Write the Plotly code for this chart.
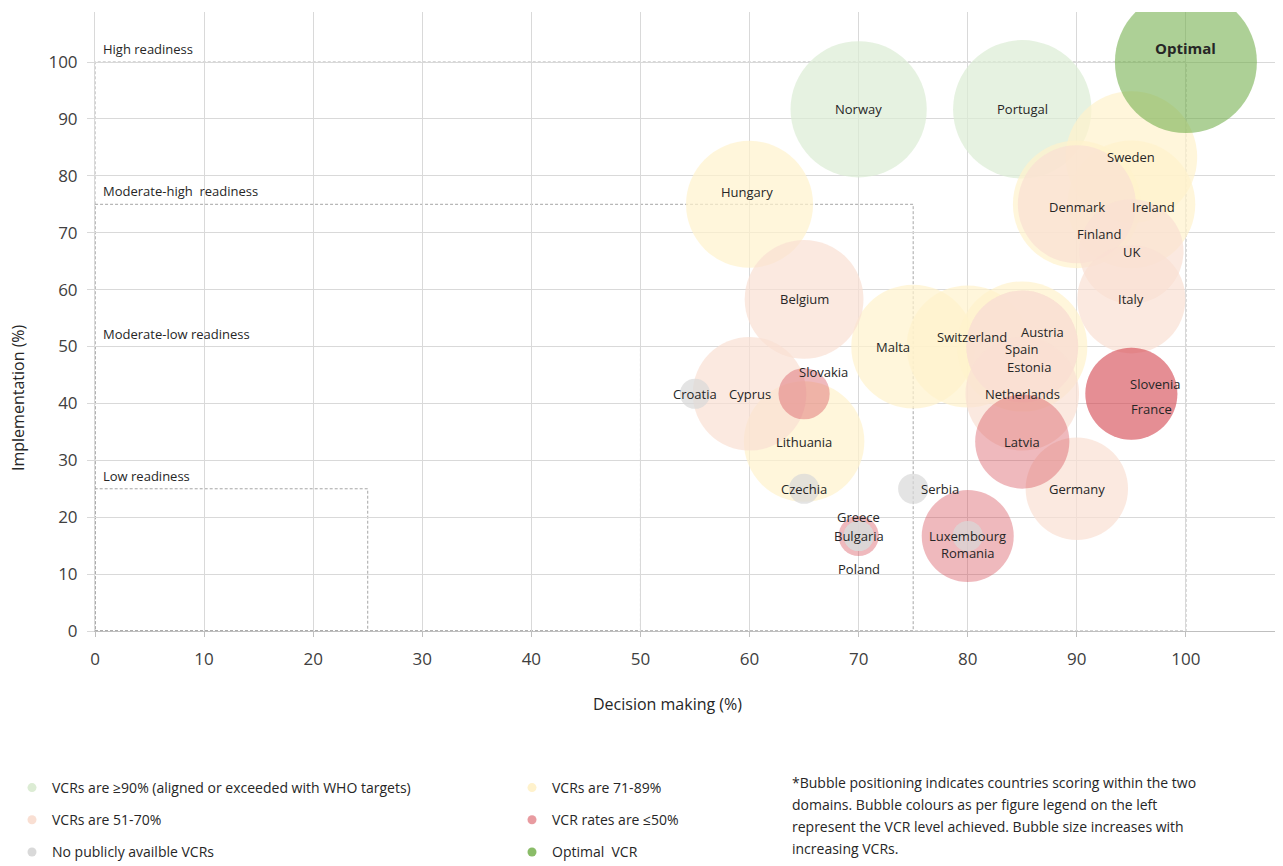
import plotly.graph_objects as go

# ---------------- data ----------------
countries = ["Norway", "Portugal", "Sweden", "Ireland", "Finland", "Hungary", "Malta",
             "Switzerland", "Austria", "Lithuania", "Denmark", "UK", "Italy", "Belgium",
             "Spain", "Estonia", "Netherlands", "Cyprus", "Germany", "Slovenia", "France",
             "Latvia", "Slovakia", "Romania", "Greece", "Croatia", "Czechia", "Serbia",
             "Luxembourg", "Bulgaria", "Poland", "Optimal"]
decision_making = [70, 85, 95, 95, 90, 60, 75,
                   80, 85, 65, 90, 95, 95, 65,
                   85, 85, 85, 60, 90, 95, 95,
                   85, 65, 80, 70, 55, 65, 75,
                   80, 70, 70, 100]
implementation = [91.7, 91.7, 83.3, 75, 75, 75, 50,
                  50, 50, 33.3, 75, 66.7, 58.3, 58.3,
                  50, 50, 41.7, 41.7, 25, 41.7, 41.7,
                  33.3, 41.7, 16.7, 16.7, 41.7, 25, 25,
                  16.7, 16.7, 16.7, 100]
vcr_size = [92, 95, 86, 81, 81, 80, 76,
            74, 84, 72, 69, 54, 58, 70,
            62, 62, 64, 64, 52, 42, 42,
            44, 13, 42, 8, 4.5, 4.5, 4.5,
            4.5, 4.5, 4.5, 100]
vcr_group = ["g90", "g90", "g71", "g71", "g71", "g71", "g71",
             "g71", "g71", "g71", "g51", "g51", "g51", "g51",
             "g51", "g51", "g51", "g51", "g51", "g50", "g50",
             "g50", "g50", "g50", "g50", "na", "na", "na",
             "na", "na", "na", "opt"]

group_keys = ["g90", "g71", "g51", "g50", "na", "opt"]
group_names = ["VCRs are ≥90% (aligned or exceeded with WHO targets)", "VCRs are 71-89%",
               "VCRs are 51-70%", "VCR rates are ≤50%",
               "No publicly availble VCRs", "Optimal  VCR"]
readiness_levels = [100, 75, 50, 25]
readiness_labels = ["High readiness", "Moderate-high  readiness",
                    "Moderate-low readiness", "Low readiness"]
x_ticks = list(range(0, 101, 10))
y_ticks = list(range(0, 101, 10))
footnote_lines = ["*Bubble positioning indicates countries scoring within the two",
                  "domains. Bubble colours as per figure legend on the left",
                  "represent the VCR level achieved. Bubble size increases with",
                  "increasing VCRs."]

# ---------------- style ----------------
colors = {"g90": "#dcecd4", "g71": "#fff2cc", "g51": "#f9dfd3",
          "g50": "rgba(214,72,82,0.55)", "na": "#d9d9d9", "opt": "rgba(112,173,71,0.82)"}
draw_order = ["g90", "g71", "g51", "g50", "na", "opt"]
label_shift = {"Optimal": (0, 14), "Ireland": (22, -3), "Finland": (22, -30),
               "Hungary": (-3, 12), "Malta": (-20, 0), "Switzerland": (4, 10),
               "Austria": (20, 15), "Spain": (0, -2), "Estonia": (7, -20),
               "Slovenia": (24, 10), "France": (20, -15), "Serbia": (27, 0),
               "Romania": (0, -17), "Slovakia": (19, 22), "Greece": (0, 19),
               "Poland": (0, -33), "Denmark": (0, -3)}
MAX_R = 71.0
sizeref = max(vcr_size) / (2 * MAX_R ** 2)
FONT = "Open Sans"

# page body adds an 8px offset; size the figure so it fills the 1283x866 window
OFF = 8
W, H = 1283 - OFF, 866 - OFF
L, T = 95 - OFF, 12 - OFF
B = H - (631 - OFF)
PW, PH = W - L, H - T - B


def px_x(p):
    return (p - OFF - L) / PW


def px_y(p):
    return (H - B - (p - OFF)) / PH


fig = go.Figure()

for g in draw_order:
    idx = [i for i, v in enumerate(vcr_group) if v == g]
    fig.add_trace(go.Scatter(
        x=[decision_making[i] for i in idx],
        y=[implementation[i] for i in idx],
        mode="markers",
        marker=dict(size=[vcr_size[i] for i in idx], sizemode="area", sizeref=sizeref,
                    color=colors[g], line=dict(width=0)),
        text=[countries[i] for i in idx],
        showlegend=False, hoverinfo="text", cliponaxis=True))

# legend entries (two columns)
for k, (g, name) in enumerate(zip(group_keys, group_names)):
    fig.add_trace(go.Scatter(
        x=[None], y=[None], mode="markers", name=name,
        marker=dict(size=9, color=colors[g]),
        legendgroup=g, legend="legend" if k % 2 == 0 else "legend2"))

# readiness boxes
for lvl, lab in zip(readiness_levels, readiness_labels):
    fig.add_shape(type="rect", x0=0, y0=0, x1=lvl, y1=lvl, layer="below",
                  line=dict(color="#a6a6a6", width=1, dash="3px,2px"))
    fig.add_annotation(x=0, y=lvl, text=lab, showarrow=False, xanchor="left",
                       yanchor="bottom", xshift=6, yshift=2,
                       font=dict(family=FONT, size=13, color="#262626"))

# country labels
for c, xv, yv in zip(countries, decision_making, implementation):
    dx, dy = label_shift.get(c, (0, 0))
    bold = c == "Optimal"
    fig.add_annotation(x=xv, y=yv, text=f"<b>{c}</b>" if bold else c, showarrow=False,
                       xshift=dx, yshift=dy,
                       font=dict(family=FONT, size=15 if bold else 13, color="#262626"))

# axis titles
fig.add_annotation(xref="paper", yref="paper", x=px_x(667), y=px_y(704),
                   text="Decision making (%)", showarrow=False, yanchor="middle",
                   font=dict(family=FONT, size=16, color="#262626"))
fig.add_annotation(xref="paper", yref="paper", x=px_x(18), y=px_y(398),
                   text="Implementation (%)", showarrow=False, textangle=-90,
                   xanchor="center", yanchor="middle",
                   font=dict(family=FONT, size=16, color="#262626"))

# footnote
for k, line in enumerate(footnote_lines):
    fig.add_annotation(xref="paper", yref="paper", x=px_x(790),
                       y=px_y(782 + 22 * k), text=line, showarrow=False,
                       xanchor="left", yanchor="middle",
                       font=dict(family=FONT, size=14, color="#262626"))

legend_common = dict(orientation="v", bgcolor="rgba(0,0,0,0)", tracegroupgap=11,
                     font=dict(family=FONT, size=14, color="#262626"),
                     yanchor="top", xanchor="left", itemclick=False)

fig.update_layout(
    width=W, height=H,
    margin=dict(l=L, r=0, t=T, b=B, autoexpand=False),
    paper_bgcolor="white", plot_bgcolor="white",
    font=dict(family=FONT, color="#404040"),
    legend=dict(x=px_x(12), y=px_y(772), **legend_common),
    legend2=dict(x=px_x(512), y=px_y(772), **legend_common),
    xaxis=dict(range=[0, 108.9], tickvals=x_ticks, showgrid=True, gridcolor="#d9d9d9",
               gridwidth=1, zeroline=False, showline=True, linecolor="#bfbfbf",
               ticks="outside", ticklen=5, tickcolor="#bfbfbf",
               tickfont=dict(family=FONT, size=17, color="#404040"),
               ticklabelstandoff=8),
    yaxis=dict(range=[0, 108.8], tickvals=y_ticks, showgrid=True, gridcolor="#d9d9d9",
               gridwidth=1, zeroline=False, showline=True, linecolor="#d9d9d9",
               ticks="outside", ticklen=7, tickcolor="#d9d9d9",
               tickfont=dict(family=FONT, size=17, color="#404040"),
               ticklabelstandoff=6),
)

fig.write_html("out.html")
